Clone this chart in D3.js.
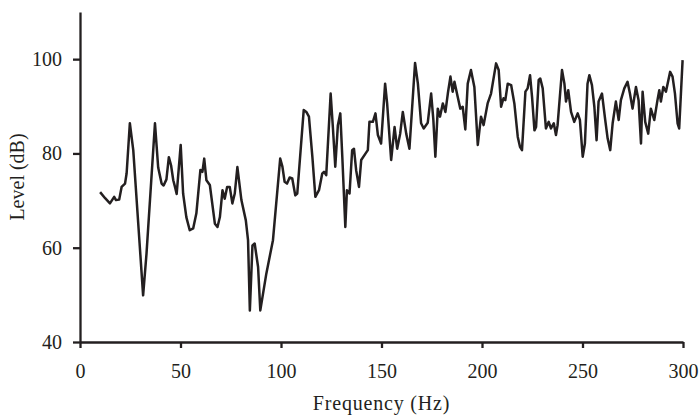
<!DOCTYPE html>
<html>
<head>
<meta charset="utf-8">
<script src="https://cdn.jsdelivr.net/npm/d3@7"></script>
<style>
    body { margin: 0; background: #fff; }
    #chart text { font-family: 'Liberation Serif', 'Times New Roman', serif; fill: #231f20; }
</style>
</head>
<body>
<div id="chart"></div>
<script>
const freqs = [
    10, 12.5, 14.9, 17, 17.9, 19.5, 20.7, 22.4, 23.2, 24.8, 26.5, 31.4, 33.1, 37.3, 38.9,
    40.6, 41.6, 43.0, 44.2, 45.3, 46.4, 47.2, 48.1, 50.1, 51.3, 52.9, 54.6, 56.3, 57.9, 59.9,
    60.9, 61.8, 62.9, 64.6, 67.1, 68.4, 69.6, 70.9, 72.0, 73.2, 74.5, 75.8, 77.0, 78.3, 80.3,
    82.5, 83.6, 84.5, 85.8, 86.9, 88.6, 89.7, 92.7, 96.0, 99.6,
    100.7, 101.8, 103.0, 104.3, 105.6, 107.1, 108.1, 111.3, 112.6, 113.9, 115.6, 117.1, 118.9,
    120.5, 121.4, 122.5, 124.7, 125.8, 127.0, 128.3, 129.5, 130.5, 132.0, 132.8, 134.1, 135.4,
    136.3, 137.4, 138.8, 139.9, 142.1, 143.2, 144.0, 145.7, 147.0, 148.2, 149.8, 151.8, 152.8,
    154.8, 156.5, 157.8, 159.3, 160.6, 162.3, 163.9, 166.7, 168.1, 169.7, 171.0, 173.0, 174.7,
    175.8, 176.8, 178.0, 179.1, 180.5, 181.8, 183.0, 184.3, 185.4, 186.3, 187.9, 189.2, 190.4,
    191.7, 192.9, 194.5, 196.2, 197.9, 199.5, 200.8, 202.8, 204.5, 207.0, 208.3, 209.5, 210.7,
    211.6, 212.8, 214.5, 216.1, 217.8, 218.9, 219.9, 221.6, 222.7, 223.9, 224.9, 226.1, 226.9,
    228.2, 229.0, 230.2, 231.8, 233.2, 234.3, 235.7, 236.8, 237.6, 239.8, 241.0, 241.8, 242.9,
    244.3, 245.9, 247.6, 248.7, 250.1, 251.2, 252.5, 253.4, 254.7, 255.9, 257.0, 258.0, 259.7,
    261.3, 262.5, 263.8, 265.0, 266.6, 268.0, 269.1, 270.8, 272.4, 273.6, 274.9, 276.6, 277.9,
    279.1, 279.9, 281.2, 282.7, 284.0, 285.7, 287.3, 288.2, 289.0, 290.2, 291.5, 293.6, 294.8,
    296.0, 297.3, 298.1, 299.8
];

const levels = [
    71.8, 70.5, 69.4, 70.8, 70.1, 70.2, 72.9, 73.6, 75.8, 86.4, 80.7, 49.9, 58.8, 86.4, 77.0,
    73.6, 73.2, 74.5, 79.2, 77.5, 74.3, 73.0, 71.4, 81.8, 71.5, 66.5, 63.7, 64.1, 67.3, 76.5,
    76.1, 78.9, 74.3, 73.3, 65.1, 64.4, 66.5, 72.2, 70.4, 72.9, 72.9, 69.4, 71.5, 77.1, 70.1,
    65.8, 61.6, 46.7, 60.5, 60.9, 55.9, 46.7, 54.5, 61.6, 78.9,
    77.2, 74.0, 73.6, 74.9, 74.7, 71.1, 71.5, 89.2, 88.8, 87.8, 79.3, 70.8, 72.2,
    75.7, 76.1, 75.4, 92.7, 85.6, 77.2, 86.0, 88.5, 79.3, 64.4, 72.2, 71.5, 80.7,
    81.0, 76.4, 72.9, 78.6, 80.0, 80.7, 86.7, 86.7, 88.5, 83.9, 82.1, 94.8, 90.6,
    78.6, 85.6, 81.0, 84.2, 88.8, 84.2, 81.0, 99.2, 94.8, 86.4, 85.3, 86.5, 92.7,
    87.1, 79.3, 89.5, 87.8, 90.6, 88.8, 92.7, 96.3, 93.1, 95.2, 92.0, 89.5, 89.9,
    85.1, 94.8, 97.7, 94.1, 81.8, 87.8, 86.0, 90.6, 92.7, 99.1, 97.7, 89.9, 91.7,
    91.3, 94.8, 94.5, 90.6, 83.5, 81.4, 80.7, 93.1, 93.8, 96.6, 92.0, 84.9, 85.6,
    95.6, 95.9, 93.8, 85.3, 86.7, 85.3, 86.4, 83.9, 86.0, 97.7, 94.8, 91.0, 93.4,
    88.8, 86.7, 88.5, 87.1, 79.3, 82.1, 94.8, 96.6, 94.5, 89.9, 82.8, 91.0, 92.7,
    87.1, 83.2, 80.7, 86.4, 91.0, 87.1, 91.3, 93.8, 95.2, 92.7, 89.5, 94.1, 91.3,
    82.1, 93.1, 86.7, 84.2, 89.5, 87.1, 91.3, 93.4, 91.0, 94.1, 93.1, 97.3, 96.3,
    92.7, 86.4, 85.3, 99.8
];

const xTicks = [0, 50, 100, 150, 200, 250, 300];
const yTicks = [40, 60, 80, 100];

const ink = '#231f20';

function renderChart() {
    const margin = {top: 12, right: 16, bottom: 74, left: 80};
    const width = 699 - margin.left - margin.right;
    const height = 416 - margin.top - margin.bottom;

    const svg = d3.select('#chart')
        .append('svg')
        .attr('width', 699)
        .attr('height', 416)
        .append('g')
        .attr('transform', `translate(${margin.left},${margin.top})`);

    const x = d3.scaleLinear().domain([0, 300]).range([0, width]);
    const y = d3.scaleLinear().domain([40, 110]).range([height, 0]);

    const data = freqs.map((f, i) => ({f: f, v: levels[i]}));

    const line = d3.line()
        .x(d => x(d.f))
        .y(d => y(d.v));

    svg.append('path')
        .datum(data)
        .attr('fill', 'none')
        .attr('stroke', ink)
        .attr('stroke-width', 2.5)
        .attr('stroke-linejoin', 'round')
        .attr('d', line);

    const xAxis = svg.append('g')
        .attr('transform', `translate(0,${height})`)
        .call(d3.axisBottom(x).tickValues(xTicks).tickSize(6).tickSizeOuter(0).tickPadding(16));

    const yAxis = svg.append('g')
        .call(d3.axisLeft(y).tickValues(yTicks).tickSize(7).tickSizeOuter(0).tickPadding(11));

    [xAxis, yAxis].forEach(g => {
        g.select('.domain').attr('stroke', ink).attr('stroke-width', 2.3);
        g.selectAll('.tick line').attr('stroke', ink).attr('stroke-width', 2.3);
        g.selectAll('.tick text')
            .style('font-size', '20px')
            .style('font-family', "'Liberation Serif', serif")
            .attr('fill', ink);
    });

    svg.append('text')
        .attr('text-anchor', 'middle')
        .attr('x', x(150))
        .attr('y', height + 68)
        .style('font-size', '20px')
        .style('letter-spacing', '0.8px')
        .text('Frequency (Hz)');

    svg.append('text')
        .attr('text-anchor', 'middle')
        .attr('transform', `translate(${24 - margin.left},${177 - margin.top})rotate(-90)`)
        .style('font-size', '20px')
        .text('Level (dB)');
}

document.addEventListener('DOMContentLoaded', renderChart);
</script>
</body>
</html>
